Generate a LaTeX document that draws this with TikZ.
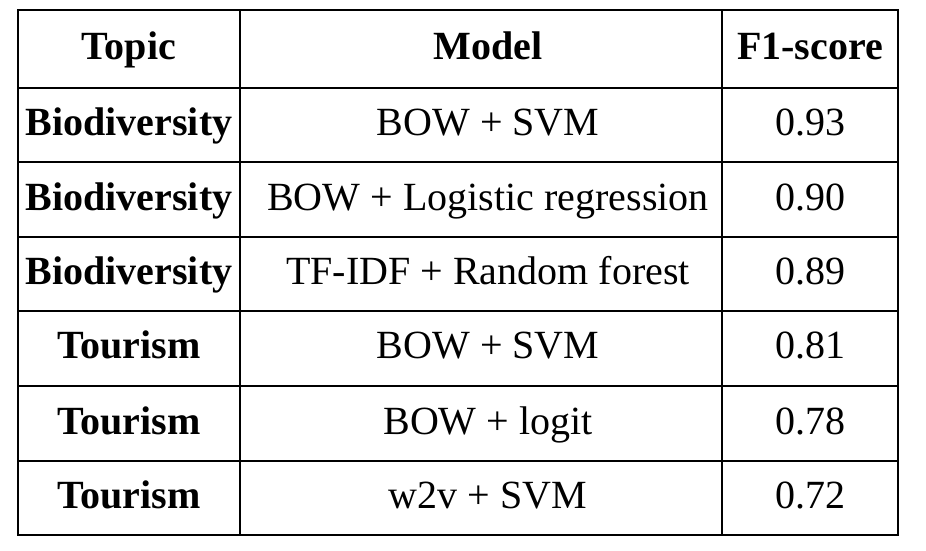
\documentclass[tikz,border=0pt]{standalone}
\usepackage{fontspec}
\setmainfont{Liberation Serif}
\begin{document}
\begin{tikzpicture}[x=1pt,y=-1pt,
  cell/.style={font=\fontsize{40}{44}\selectfont, inner sep=0pt, text height=28pt, text depth=8pt},
  hcell/.style={cell, font=\fontsize{40}{44}\selectfont\bfseries}]
	\useasboundingbox (0,0) rectangle (926,550);

	% grid
	\draw[line width=1.5pt] (18,10) rectangle (898,535);
	\foreach \y in {88,162,237,311,386,461}
		\draw[line width=1.2pt] (18,\y) -- (898,\y);
	\draw[line width=1.2pt] (240,10) -- (240,535);
	\draw[line width=1.2pt] (722,10) -- (722,535);

	% header
	\node[hcell] (htopic) at (129,49) {Topic};
	\node[hcell] (hmodel) at (488,49) {Model};
	\node[hcell] (hscore) at (810,49) {F1-score};

	% rows
	\foreach \y/\t/\m/\s [count=\i] in {
		125/Biodiversity/BOW + SVM/0.93,
		200/Biodiversity/BOW + Logistic regression/0.90,
		274/Biodiversity/TF-IDF + Random forest/0.89,
		348/Tourism/BOW + SVM/0.81,
		424/Tourism/BOW + logit/0.78,
		498/Tourism/w2v + SVM/0.72}{
		\node[hcell] (topic\i) at (129,\y) {\t};
		\node[cell] (model\i) at (488,\y) {\m};
		\node[cell] (score\i) at (810,\y) {\s};
	}
\end{tikzpicture}
\end{document}
